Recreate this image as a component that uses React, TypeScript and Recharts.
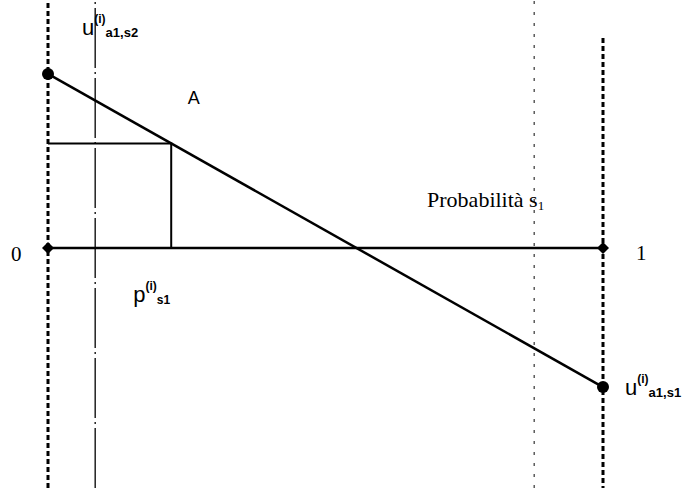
import { ComposedChart, Line, XAxis, YAxis, ReferenceLine, ReferenceDot } from "recharts";

// probability of state s1 at the two ends, and utility of action a1 there
const probs = [0, 1];
const utilities = [1.0, -0.8];
// point read on the line and the guide verticals
const pS1 = 0.222;
const uAtP = 0.6;
const guides = [0.085, 0.876];
const topRight = 1.207;

const lineData = probs.map((p, i) => ({ p, u: utilities[i] }));
const axisData = probs.map((p) => ({ p, u: 0 }));
const rectData = [
  { p: probs[0], u: uAtP },
  { p: pS1, u: uAtP },
  { p: pS1, u: 0 },
];

const SANS = "Liberation Sans, Arial, sans-serif";
const SERIF = "Liberation Serif, Times New Roman, serif";

const Diamond = (props: any) => {
  const { cx, cy } = props;
  if (cx == null) return null;
  const r = 6;
  return (
    <polygon
      points={`${cx - r},${cy} ${cx},${cy - r} ${cx + r},${cy} ${cx},${cy + r}`}
      fill="#000"
    />
  );
};

const Ball = (props: any) => {
  const { cx, cy } = props;
  if (cx == null) return null;
  return <circle cx={cx} cy={cy} r={6} fill="#000" />;
};

const uLabel = (sub: string, dx: number, dy: number) => (props: any) => (
  <text x={props.cx + dx} y={props.cy + dy} fontFamily={SANS} fill="#000">
    <tspan fontSize={22}>u</tspan>
    <tspan fontSize={12} fontWeight="bold" dy={-12}>(i)</tspan>
    <tspan fontSize={13} fontWeight="bold" dy={14}>{sub}</tspan>
  </text>
);

const plainLabel = (txt: string, dx: number, dy: number, font: string, size: number) => (props: any) => (
  <text x={props.cx + dx} y={props.cy + dy} fontFamily={font} fontSize={size} fill="#000">
    {txt}
  </text>
);

const probLabel = (props: any) => (
  <text x={props.cx} y={props.cy} fontFamily={SERIF} fontSize={22} fill="#000">
    Probabilità s<tspan fontSize={13} dy={3}>1</tspan>
  </text>
);

const pLabel = (props: any) => (
  <text x={props.cx - 38} y={props.cy + 54} fontFamily={SANS} fill="#000">
    <tspan fontSize={22}>p</tspan>
    <tspan fontSize={12} fontWeight="bold" dy={-12}>(i)</tspan>
    <tspan fontSize={12} fontWeight="bold" dy={14}>s1</tspan>
  </text>
);

export default function App() {
  return (
    <div style={{ position: "absolute", left: 0, top: 0, background: "#fff" }}>
      <ComposedChart width={694} height={488} margin={{ top: 0, right: 91, bottom: 0, left: 48 }}>
        <XAxis type="number" dataKey="p" domain={[0, 1]} hide />
        <YAxis type="number" dataKey="u" domain={[-1.38, 1.425]} hide />

        <ReferenceLine x={probs[0]} stroke="#000" strokeWidth={3} strokeDasharray="5 3" />
        <ReferenceLine
          segment={[
            { x: probs[1], y: topRight },
            { x: probs[1], y: -1.38 },
          ]}
          stroke="#000"
          strokeWidth={3}
          strokeDasharray="5 3"
        />
        <ReferenceLine x={guides[0]} stroke="#000" strokeWidth={1.3} strokeDasharray="60 4 2 4" />
        <ReferenceLine x={guides[1]} stroke="#333" strokeWidth={1.2} strokeDasharray="3 8" />

        <Line
          data={rectData}
          dataKey="u"
          type="linear"
          stroke="#000"
          strokeWidth={2}
          dot={false}
          isAnimationActive={false}
        />
        <Line
          data={axisData}
          dataKey="u"
          type="linear"
          stroke="#000"
          strokeWidth={2.5}
          dot={<Diamond />}
          isAnimationActive={false}
        />
        <Line
          data={lineData}
          dataKey="u"
          type="linear"
          stroke="#000"
          strokeWidth={2.5}
          dot={<Ball />}
          isAnimationActive={false}
        />

        <ReferenceDot x={probs[0]} y={1.224} r={0} shape={uLabel("a1,s2", 34, 0)} />
        <ReferenceDot x={0.252} y={0.828} r={0} shape={plainLabel("A", 0, 0, SANS, 18)} />
        <ReferenceDot x={0.683} y={0.236} r={0} shape={probLabel} />
        <ReferenceDot x={probs[0]} y={0} r={0} shape={plainLabel("0", -37, 13, SERIF, 21)} />
        <ReferenceDot x={probs[1]} y={0} r={0} shape={plainLabel("1", 33, 12, SERIF, 21)} />
        <ReferenceDot x={pS1} y={0} r={0} shape={pLabel} />
        <ReferenceDot x={probs[1]} y={utilities[1]} r={0} shape={uLabel("a1,s1", 22, 8)} />
      </ComposedChart>
    </div>
  );
}
